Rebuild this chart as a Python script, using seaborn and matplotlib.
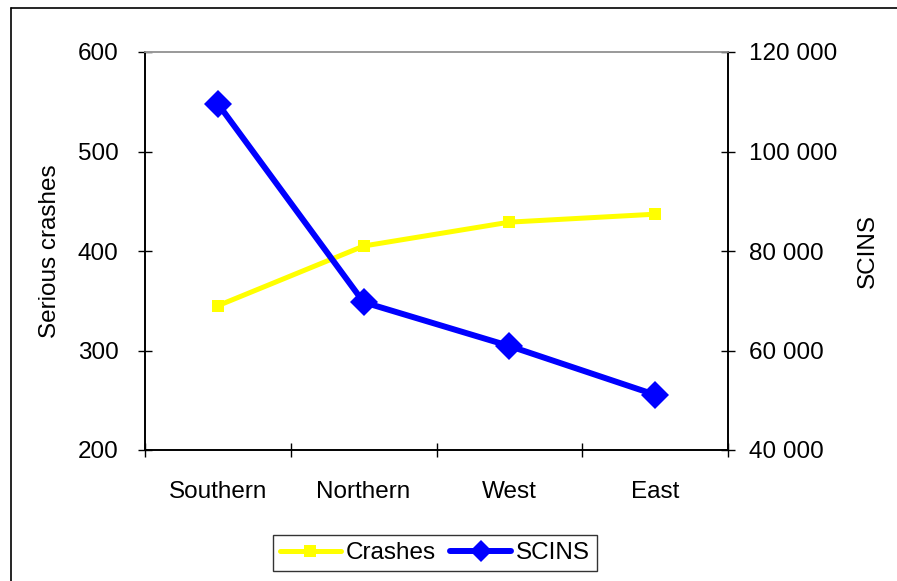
import matplotlib
matplotlib.use("Agg")
import matplotlib.pyplot as plt
import matplotlib.ticker as mticker
from matplotlib.lines import Line2D
import seaborn as sns
import pandas as pd

regions = ["Southern", "Northern", "West", "East"]
crashes = [345, 405, 429, 437]
scins = [109600, 69700, 60900, 51100]
left_ticks = [200, 300, 400, 500, 600]
right_ticks = [40000, 60000, 80000, 100000, 120000]

sns.set_theme(style="white")
plt.rcParams["font.family"] = ["Liberation Sans", "DejaVu Sans"]
plt.rcParams.update({"text.color": "black", "axes.labelcolor": "black",
                     "xtick.color": "black", "ytick.color": "black"})

df = pd.DataFrame({"pos": range(len(regions)), "region": regions,
                   "Crashes": crashes, "SCINS": scins})

YELLOW = "#FFFF00"
BLUE = "#0000FF"

fig = plt.figure(figsize=(8.97, 5.81), dpi=100)
ax = fig.add_axes([145 / 897, 1 - 450 / 581, (728 - 145) / 897, (450 - 52) / 581])
ax2 = ax.twinx()

sns.lineplot(data=df, x="pos", y="Crashes", ax=ax, color=YELLOW, lw=3.6,
             marker="s", markersize=8.5, markeredgewidth=0, zorder=3)
sns.lineplot(data=df, x="pos", y="SCINS", ax=ax2, color=BLUE, lw=4.3,
             marker="D", markersize=14, markeredgewidth=0, zorder=3)

ax.set_xlim(-0.5, len(regions) - 0.5)
ax.set_ylim(200, 600)
ax2.set_ylim(40000, 120000)

ax.set_xticks(range(len(regions)))
ax.set_xticklabels(regions, fontsize=17.5)
ax.set_xticks([i - 0.5 for i in range(len(regions) + 1)], minor=True)
ax.tick_params(axis="x", which="major", length=0, pad=22, bottom=True)
ax.tick_params(axis="x", which="minor", direction="inout", length=10, width=1,
               color="black", bottom=True)

ax.set_yticks(left_ticks)
ax.tick_params(axis="y", direction="inout", length=10, width=1, color="black",
               labelsize=17.5, pad=14, left=True)
ax2.set_yticks(right_ticks)
ax2.yaxis.set_major_formatter(mticker.FuncFormatter(lambda v, p: f"{int(v):,}".replace(",", " ")))
ax2.tick_params(axis="y", direction="inout", length=10, width=1, color="black",
                labelsize=17.5, pad=10, right=True)

ax.set_xlabel("")
ax.set_ylabel("Serious crashes", fontsize=17.5, labelpad=12)
ax2.set_ylabel("SCINS", fontsize=17.5, labelpad=14)

for a in (ax, ax2):
    for side in ("left", "right", "bottom"):
        a.spines[side].set_color("black")
        a.spines[side].set_linewidth(1.2)
    a.spines["top"].set_color("#999999")
    a.spines["top"].set_linewidth(1.2)

# outer chart frame (left and top edges)
fig.add_artist(Line2D([11 / 897, 11 / 897], [0, 1 - 8 / 581], transform=fig.transFigure,
                      color="black", lw=1.2))
fig.add_artist(Line2D([11 / 897, 1], [1 - 8 / 581, 1 - 8 / 581], transform=fig.transFigure,
                      color="black", lw=1.2))

handles = [
    Line2D([], [], color=YELLOW, lw=3.6, marker="s", markersize=8, markeredgewidth=0),
    Line2D([], [], color=BLUE, lw=4.3, marker="D", markersize=11, markeredgewidth=0),
]
leg = fig.legend(handles, ["Crashes", "SCINS"], loc="center", ncol=2,
                 bbox_to_anchor=(435 / 897, 1 - 553 / 581), fontsize=17.5,
                 frameon=True, fancybox=False, handlelength=2.5, handletextpad=0.2,
                 columnspacing=0.6, borderpad=0.3, borderaxespad=0)
leg.get_frame().set_edgecolor("black")
leg.get_frame().set_linewidth(1.0)

fig.savefig("out.png", dpi=100, facecolor="white")
